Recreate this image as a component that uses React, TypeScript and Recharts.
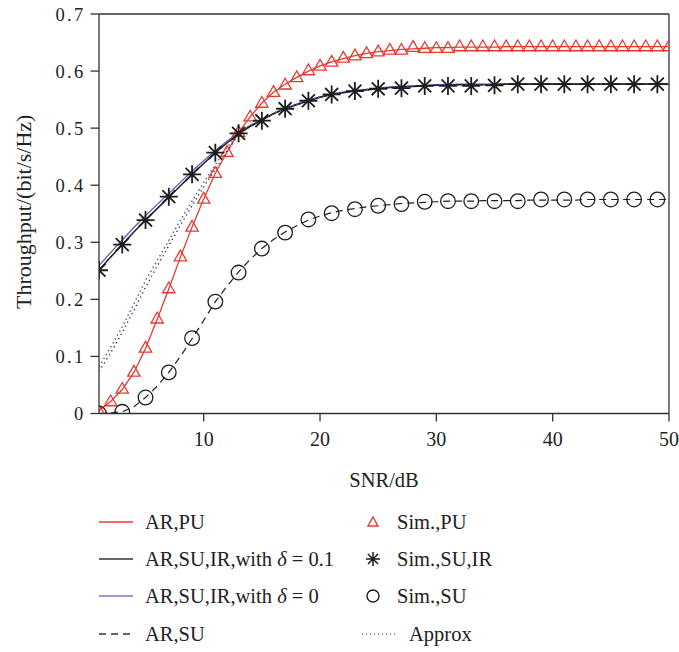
import React from 'react';
import { ComposedChart, Line, Scatter, XAxis, YAxis, ReferenceLine, Label } from 'recharts';

const snr = [1,2,3,4,5,6,7,8,9,10,11,12,13,14,15,16,17,18,19,20,21,22,23,24,25,26,27,28,29,30,31,32,33,34,35,36,37,38,39,40,41,42,43,44,45,46,47,48,49,50];
const snrOdd = [1,3,5,7,9,11,13,15,17,19,21,23,25,27,29,31,33,35,37,39,41,43,45,47,49];

const arPU = [
  0.005,0.021,0.042,0.072,0.114,0.165,0.218,0.274,0.327,0.376,
  0.421,0.458,0.492,0.520,0.544,0.563,0.577,0.589,0.600,0.609,
  0.616,0.622,0.627,0.631,0.634,0.636,0.638,0.639,0.640,0.641,
  0.641,0.642,0.642,0.642,0.642,0.643,0.643,0.643,0.643,0.643,
  0.643,0.643,0.643,0.643,0.643,0.643,0.643,0.643,0.643,0.643];
const simPU = [
  0.004,0.021,0.043,0.073,0.115,0.166,0.219,0.275,0.327,0.376,
  0.421,0.458,0.493,0.520,0.544,0.563,0.576,0.589,0.601,0.609,
  0.616,0.623,0.627,0.631,0.634,0.637,0.637,0.642,0.640,0.640,
  0.640,0.643,0.643,0.643,0.643,0.643,0.643,0.643,0.643,0.643,
  0.643,0.643,0.643,0.643,0.643,0.643,0.643,0.643,0.643,0.643];
const arSUIR01 = [
  0.251,0.274,0.296,0.318,0.339,0.359,0.379,0.399,0.419,0.438,
  0.457,0.474,0.490,0.503,0.514,0.525,0.534,0.541,0.548,0.554,
  0.559,0.562,0.565,0.567,0.569,0.571,0.572,0.573,0.574,0.575,
  0.575,0.576,0.576,0.576,0.576,0.577,0.577,0.577,0.577,0.577,
  0.577,0.577,0.577,0.577,0.577,0.577,0.577,0.577,0.577,0.577];
const arSUIR0 = [
  0.259,0.282,0.304,0.326,0.347,0.366,0.386,0.405,0.425,0.443,
  0.461,0.477,0.492,0.505,0.515,0.526,0.535,0.542,0.549,0.555,
  0.560,0.563,0.566,0.568,0.570,0.572,0.573,0.574,0.575,0.576,
  0.576,0.577,0.577,0.577,0.577,0.578,0.578,0.578,0.578,0.578,
  0.578,0.578,0.578,0.578,0.578,0.578,0.578,0.578,0.578,0.578];
const approx0 = [
  0.082,0.116,0.152,0.192,0.233,0.268,0.303,0.339,0.372,0.405,
  0.436,0.466,0.492,0.505,0.515,0.526,0.535,0.542,0.549,0.555,
  0.560,0.563,0.566,0.568,0.570,0.572,0.573,0.574,0.575,0.576,
  0.576,0.577,0.577,0.577,0.577,0.578,0.578,0.578,0.578,0.578,
  0.578,0.578,0.578,0.578,0.578,0.578,0.578,0.578,0.578,0.578];
const approx01 = [
  0.074,0.106,0.142,0.181,0.221,0.258,0.294,0.330,0.364,0.397,
  0.428,0.460,0.488,0.503,0.514,0.525,0.534,0.541,0.548,0.554,
  0.559,0.562,0.565,0.567,0.569,0.571,0.572,0.573,0.574,0.575,
  0.575,0.576,0.576,0.576,0.576,0.577,0.577,0.577,0.577,0.577,
  0.577,0.577,0.577,0.577,0.577,0.577,0.577,0.577,0.577,0.577];
const arSU = [
  0.000,0.001,0.003,0.012,0.028,0.048,0.072,0.100,0.131,0.163,
  0.196,0.223,0.248,0.270,0.289,0.305,0.318,0.329,0.339,0.346,
  0.352,0.356,0.359,0.362,0.364,0.366,0.368,0.369,0.370,0.371,
  0.372,0.372,0.372,0.373,0.373,0.373,0.373,0.374,0.374,0.374,
  0.374,0.374,0.375,0.375,0.375,0.375,0.375,0.375,0.375,0.375];
const simSU = [0.000,0.003,0.028,0.072,0.132,0.196,0.247,0.289,0.317,0.340,0.351,0.358,0.364,0.367,0.371,0.372,0.372,0.372,0.372,0.375,0.375,0.375,0.375,0.375,0.375];
const simSUIR = [0.251,0.296,0.339,0.380,0.419,0.457,0.491,0.513,0.534,0.548,0.559,0.565,0.569,0.570,0.574,0.574,0.574,0.575,0.577,0.577,0.577,0.577,0.577,0.577,0.577];

const xTicks = [10, 20, 30, 40, 50];
const yTicks = [0, 0.1, 0.2, 0.3, 0.4, 0.5, 0.6, 0.7];

const RED = '#e8392f';
const BLACK = '#1e1e1e';
const BLUE = '#5a5fbf';
const AXIS = '#333333';
const FONT = "'Liberation Serif', 'Times New Roman', serif";

const lineData = snr.map((x, i) => ({
  x, pu: arPU[i], ir01: arSUIR01[i], ir0: arSUIR0[i], su: arSU[i], apx0: approx0[i], apx01: approx01[i],
}));
const simPUData = snr.map((x, i) => ({ x, y: simPU[i] }));
const simIRData = snrOdd.map((x, i) => ({ x, y: simSUIR[i] }));
const simSUData = snrOdd.map((x, i) => ({ x, y: simSU[i] }));

const Triangle = (p: any) => {
  const { cx, cy } = p;
  const s = 6.5;
  return <path d={`M${cx},${cy - s} L${cx + s * 0.95},${cy + s * 0.65} L${cx - s * 0.95},${cy + s * 0.65} Z`} fill="none" stroke={RED} strokeWidth={1.3} />;
};
const StarShape = (p: any) => {
  const { cx, cy, r = 9, w = 1.8 } = p;
  const d = r * 0.72;
  return (
    <path d={`M${cx - r},${cy} L${cx + r},${cy} M${cx},${cy - r} L${cx},${cy + r} M${cx - d},${cy - d} L${cx + d},${cy + d} M${cx - d},${cy + d} L${cx + d},${cy - d}`} stroke={BLACK} strokeWidth={w} fill="none" />
  );
};
const Star = (p: any) => <StarShape cx={p.cx} cy={p.cy} />;
const Circle = (p: any) => {
  const { cx, cy } = p;
  return <circle cx={cx} cy={cy} r={7.3} fill="none" stroke={BLACK} strokeWidth={1.3} />;
};

const legendLeft = [
  { label: 'AR,PU', kind: 'red' },
  { label: 'AR,SU,IR,with ', delta: '0.1', kind: 'black' },
  { label: 'AR,SU,IR,with ', delta: '0', kind: 'blue' },
  { label: 'AR,SU', kind: 'dash' },
];
const legendRight = [
  { label: 'Sim.,PU', kind: 'tri' },
  { label: 'Sim.,SU,IR', kind: 'star' },
  { label: 'Sim.,SU', kind: 'circ' },
  { label: 'Approx', kind: 'dot' },
];
const rowY = [522, 559, 596, 634];

const LegendBox = () => (
  <svg width={679} height={652} style={{ position: 'absolute', left: 0, top: 0, pointerEvents: 'none' }}>
    {legendLeft.map((it, i) => {
      const y = rowY[i];
      const stroke = it.kind === 'red' ? RED : it.kind === 'blue' ? '#7478c8' : '#333';
      return (
        <g key={'l' + i}>
          <line x1={99} x2={133} y1={y} y2={y} stroke={stroke} strokeWidth={1.5} strokeDasharray={it.kind === 'dash' ? '7 5' : undefined} />
          <text x={145} y={y} dominantBaseline="central" fontFamily={FONT} fontSize={20.5} fill="#222">
            {it.label}
            {it.delta !== undefined && (
              <>
                <tspan fontStyle="italic">δ</tspan>
                <tspan>{' = ' + it.delta}</tspan>
              </>
            )}
          </text>
        </g>
      );
    })}
    {legendRight.map((it, i) => {
      const y = rowY[i];
      const cx = 373;
      let mark: React.ReactNode = null;
      if (it.kind === 'tri') mark = <path d={`M${cx},${y - 5} L${cx + 5},${y + 4} L${cx - 5},${y + 4} Z`} fill="none" stroke={RED} strokeWidth={1.4} />;
      if (it.kind === 'star') mark = <StarShape cx={cx} cy={y} r={7} w={1.5} />;
      if (it.kind === 'circ') mark = <circle cx={cx} cy={y} r={6} fill="none" stroke={BLACK} strokeWidth={1.4} />;
      if (it.kind === 'dot') mark = <line x1={362} x2={396} y1={y} y2={y} stroke="#444" strokeWidth={1.2} strokeDasharray="1 3" />;
      return (
        <g key={'r' + i}>
          {mark}
          <text x={it.kind === 'dot' ? 409 : 397} y={y} dominantBaseline="central" fontFamily={FONT} fontSize={20.5} fill="#222">{it.label}</text>
        </g>
      );
    })}
  </svg>
);

export default function App() {
  return (
    <div style={{ position: 'absolute', left: 0, top: 0, width: 679, height: 652, background: '#fff' }}>
      <ComposedChart width={679} height={652} data={lineData} margin={{ top: 14, right: 10, bottom: 208.5, left: 0 }}>
        <XAxis
          dataKey="x" type="number" domain={[1, 50]} ticks={xTicks} allowDataOverflow
          stroke={AXIS} strokeWidth={1.3} tickSize={8} tickMargin={10} height={30}
          tick={{ fontFamily: FONT, fontSize: 20, fill: '#222' }} tickLine={{ stroke: AXIS, strokeWidth: 1.3 }}
        >
          <Label content={(props: any) => {
            const vb = props.viewBox || { x: 99, y: 413, width: 570 };
            return <text x={vb.x + vb.width / 2} y={vb.y + 66} textAnchor="middle" dominantBaseline="central" fontFamily={FONT} fontSize={20.5} fill="#222">SNR/dB</text>;
          }} />
        </XAxis>
        <YAxis
          type="number" domain={[0, 0.7]} ticks={yTicks} width={99} allowDataOverflow
          stroke={AXIS} strokeWidth={1.3} tickSize={8.5} tickMargin={5}
          tickFormatter={(v: number) => (v === 0 ? '0' : v.toFixed(1))}
          tick={{ fontFamily: FONT, fontSize: 18.5, fill: '#222', letterSpacing: 2.3 }} tickLine={{ stroke: AXIS, strokeWidth: 1.3 }}
        >
          <Label content={(props: any) => {
            const vb = props.viewBox || { x: 0, y: 14, width: 99, height: 399 };
            const cx = 23;
            const cy = vb.y + vb.height / 2 - 2;
            return <text x={cx} y={cy} transform={`rotate(-90, ${cx}, ${cy})`} textAnchor="middle" dominantBaseline="central" fontFamily={FONT} fontSize={22} fill="#222">Throughput/(bit/s/Hz)</text>;
          }} />
        </YAxis>
        <ReferenceLine y={0.7} stroke={AXIS} strokeWidth={1.3} />
        <ReferenceLine x={50} stroke={AXIS} strokeWidth={1.3} />
        <Line dataKey="su" stroke={BLACK} strokeWidth={1.2} strokeDasharray="7 5" dot={false} activeDot={false} isAnimationActive={false} />
        <Line dataKey="pu" stroke={RED} strokeWidth={1.3} dot={false} activeDot={false} isAnimationActive={false} />
        <Line dataKey="ir0" stroke={BLUE} strokeWidth={1.3} dot={false} activeDot={false} isAnimationActive={false} />
        <Line dataKey="ir01" stroke={BLACK} strokeWidth={1.5} dot={false} activeDot={false} isAnimationActive={false} />
        <Line dataKey="apx0" stroke={BLUE} strokeWidth={1.5} strokeDasharray="1.5 3" dot={false} activeDot={false} isAnimationActive={false} />
        <Line dataKey="apx01" stroke={BLACK} strokeWidth={1.3} strokeDasharray="1.2 3.5" dot={false} activeDot={false} isAnimationActive={false} />
        <Scatter data={simPUData} dataKey="y" shape={Triangle} isAnimationActive={false} />
        <Scatter data={simIRData} dataKey="y" shape={Star} isAnimationActive={false} />
        <Scatter data={simSUData} dataKey="y" shape={Circle} isAnimationActive={false} />
      </ComposedChart>
      <LegendBox />
    </div>
  );
}
